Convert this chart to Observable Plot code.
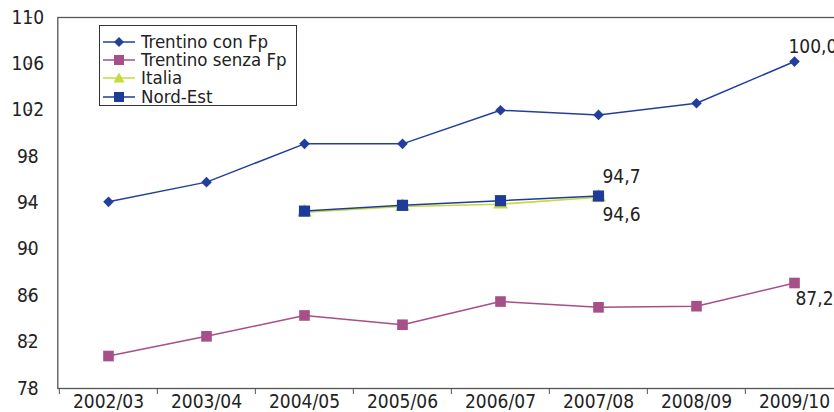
<!DOCTYPE html>
<html><head><meta charset="utf-8">
<script src="https://cdn.jsdelivr.net/npm/d3@7"></script>
<script src="https://cdn.jsdelivr.net/npm/@observablehq/plot@0.6"></script>
<style>
body{margin:0;background:#fff;}
#wrap{position:relative;width:834px;height:412px;overflow:hidden;background:#fff;}
#chart svg{max-width:none !important;}
#legend{position:absolute;left:99px;top:25px;width:196px;height:79px;border:1px solid #333;background:#fff;
 font-family:"DejaVu Sans Condensed",sans-serif;font-size:18.5px;color:#222;}
#legend .row{position:absolute;left:3px;display:flex;align-items:center;height:18px;line-height:18px;white-space:nowrap;}
#legend svg{margin-right:6px;flex:none;}
</style></head><body><div id="wrap"><div id="chart"></div><div id="legend"></div></div>
<script>
const years = ["2002/03","2003/04","2004/05","2005/06","2006/07","2007/08","2008/09","2009/10"];
const trentinoConFp = [94.1, 95.8, 99.1, 99.1, 102.0, 101.6, 102.6, 106.2];
const trentinoSenzaFp = [80.8, 82.5, 84.3, 83.5, 85.5, 85.0, 85.1, 87.1];
const shortYears = ["2004/05","2005/06","2006/07","2007/08"];
const italia = [93.2, 93.7, 93.9, 94.5];
const nordEst = [93.3, 93.8, 94.2, 94.6];
const seriesNames = ["Trentino con Fp","Trentino senza Fp","Italia","Nord-Est"];
const seriesColors = ["#22409b","#a64f88","#c6da3a","#1f3b9a"];
const seriesSymbols = ["diamond2","square","triangle","square"];
const endLabels = ["100,0","87,2","94,6","94,7"];
const yTicks = [78,82,86,90,94,98,102,106,110];

const mk = (xs, vs) => xs.map((x,i)=>({x, y: vs[i]}));
const dCon = mk(years, trentinoConFp);
const dSenza = mk(years, trentinoSenzaFp);
const dIt = mk(shortYears, italia);
const dNe = mk(shortYears, nordEst);
const last = a => [a[a.length-1]];

const step = (844-57.3)/years.length;
const chart = Plot.plot({
  width: 844, height: 412,
  marginLeft: 57.3, marginRight: 0, marginTop: 17, marginBottom: 24,
  style: {fontFamily: "DejaVu Sans Condensed", fontSize: "19px", color: "#222", background: "#fff", maxWidth: "none"},
  x: {type: "point", domain: years, padding: 0.5, label: null},
  y: {domain: [78,110], label: null},
  marks: [
    Plot.frame({stroke: "#555", strokeWidth: 1.3}),
    Plot.axisY({ticks: yTicks, tickSize: 5, tickPadding: 0, textAnchor: "middle", dx: -25, stroke: "#555", fill: "#222", label: null}),
    Plot.axisX({tickSize: 6, tickFormat: () => "", dx: -step/2, stroke: "#555", label: null}),
    Plot.axisX({tickSize: 0, tickPadding: 6, fill: "#222", label: null}),
    Plot.line(dCon, {x: "x", y: "y", stroke: seriesColors[0], strokeWidth: 1.5}),
    Plot.dot(dCon, {x: "x", y: "y", symbol: seriesSymbols[0], fill: seriesColors[0], r: 4.8}),
    Plot.line(dSenza, {x: "x", y: "y", stroke: seriesColors[1], strokeWidth: 1.5}),
    Plot.dot(dSenza, {x: "x", y: "y", symbol: seriesSymbols[1], fill: seriesColors[1], r: 6}),
    Plot.line(dIt, {x: "x", y: "y", stroke: seriesColors[2], strokeWidth: 1.5}),
    Plot.dot(dIt, {x: "x", y: "y", symbol: seriesSymbols[2], fill: seriesColors[2], r: 5.5}),
    Plot.line(dNe, {x: "x", y: "y", stroke: seriesColors[3], strokeWidth: 1.5}),
    Plot.dot(dNe, {x: "x", y: "y", symbol: seriesSymbols[3], fill: seriesColors[3], r: 6.3}),
    Plot.text(last(dCon), {x: "x", y: "y", text: () => endLabels[0], textAnchor: "start", dx: -6, dy: -15, fill: "#222"}),
    Plot.text(last(dSenza), {x: "x", y: "y", text: () => endLabels[1], textAnchor: "start", dx: 1, dy: 16, fill: "#222"}),
    Plot.text(last(dIt), {x: "x", y: "y", text: () => endLabels[2], textAnchor: "start", dx: 4, dy: 18, fill: "#222"}),
    Plot.text(last(dNe), {x: "x", y: "y", text: () => endLabels[3], textAnchor: "start", dx: 4, dy: -19, fill: "#222"})
  ]
});
chart.style.maxWidth = "none";
document.getElementById("chart").appendChild(chart);

const legend = document.getElementById("legend");
const symPath = {
  diamond2: '<path d="M16,2 L21,7 L16,12 L11,7 Z"/>',
  square: '<rect x="11" y="2" width="10" height="10"/>',
  triangle: '<path d="M16,1.5 L21.5,11.5 L10.5,11.5 Z"/>'
};
seriesNames.forEach((name,i)=>{
  const row = document.createElement("div");
  row.className = "row";
  row.style.top = (6.5 + i*18.4) + "px";
  row.innerHTML = `<svg width="32" height="14"><line x1="0" y1="7" x2="32" y2="7" stroke="${seriesColors[i]}" stroke-width="1.5"/><g fill="${seriesColors[i]}">${symPath[seriesSymbols[i]]}</g></svg><span>${name}</span>`;
  legend.appendChild(row);
});
</script>
</body></html>
